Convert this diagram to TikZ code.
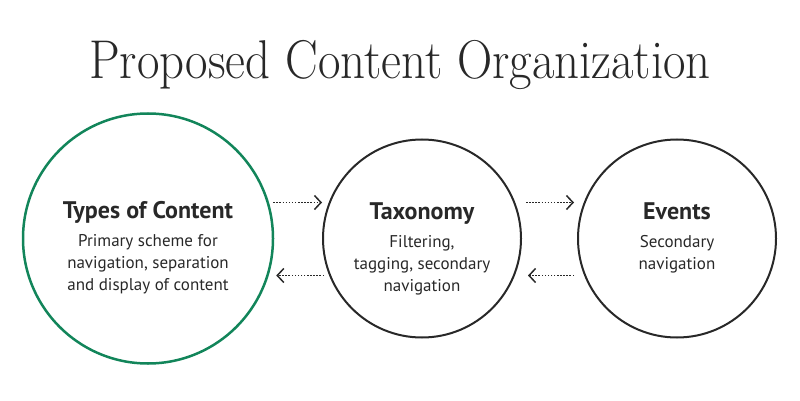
\documentclass[tikz,border=0pt]{standalone}
\usepackage{fontspec}
\setsansfont{PT Sans}
\usetikzlibrary{arrows.meta,positioning}
\definecolor{leafgreen}{RGB}{18,133,90}
\definecolor{ink}{RGB}{40,40,40}
\tikzset{
	bubble/.style={circle,draw=ink,line width=2pt,minimum size=198pt,inner sep=0pt},
	head/.style={anchor=base,text=ink,font=\sffamily\bfseries\fontsize{24}{28}\selectfont},
	desc/.style={anchor=base,text=ink,align=center,font=\sffamily\fontsize{17}{21.7}\selectfont},
	flow/.style={ink,line width=1.5pt,dash pattern=on 1.5pt off 1.6pt,-{Straight Barb[length=6.5pt,width=14pt,line width=1.5pt]}}
}

\begin{document}
\begin{tikzpicture}[x=1pt,y=-1pt]
		\useasboundingbox (0,0) rectangle (800,401);
		\node[anchor=base,text=ink,font=\fontsize{52}{58}\selectfont] (title) at (400,79) {\scalebox{0.94}[1.05]{Proposed Content Organization}};
		\node[bubble,draw=leafgreen,line width=2.5pt,minimum size=250pt] (types) at (148,238.5) {};
		\node[bubble] (taxo) at (422,238.5) {};
		\node[bubble] (events) at (677,238.5) {};
		% text sits in the upper half, last line gives the baseline
		\node[head] (types-head) at (148,218) {Types of Content};
		\node[desc] (types-desc) at (148,290) {Primary scheme for\\navigation, separation\\and display of content};
		\node[head] (taxo-head) at (422,219) {Taxonomy};
		\node[desc] (taxo-desc) at (422,291) {Filtering,\\tagging, secondary\\navigation};
		\node[head] (events-head) at (677,219) {Events};
		\node[desc] (events-desc) at (677,269) {Secondary\\navigation};
		\draw[flow] ([shift={(-1,-36)}]types.east) -- ([shift={(0,-36)}]taxo.west);
		\draw[flow] ([shift={(2,37)}]taxo.west) -- ([shift={(2,37)}]types.east);
		\draw[flow] ([shift={(4,-36)}]taxo.east) -- ([shift={(-3,-36)}]events.west);
		\draw[flow] ([shift={(-3,37)}]events.west) -- ([shift={(6,37)}]taxo.east);
	\end{tikzpicture}
\end{document}
